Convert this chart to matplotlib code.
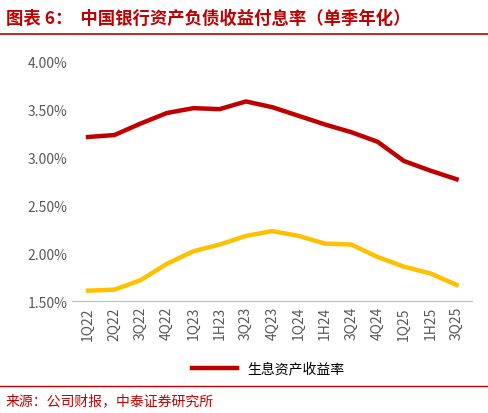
import matplotlib
matplotlib.use("Agg")
import matplotlib.pyplot as plt
from matplotlib.lines import Line2D

plt.rcParams['font.family'] = ['Noto Sans CJK SC', 'DejaVu Sans']

labels = ["1Q22","2Q22","3Q22","4Q22","1Q23","1H23","3Q23","4Q23","1Q24","1H24","3Q24","4Q24","1Q25","1H25","3Q25"]
yield_assets = [3.21,3.23,3.35,3.46,3.51,3.50,3.58,3.52,3.43,3.34,3.26,3.16,2.96,2.86,2.77]
cost_liab = [1.61,1.62,1.72,1.89,2.02,2.09,2.18,2.23,2.18,2.10,2.09,1.96,1.86,1.79,1.67]

fig = plt.figure(figsize=(4.88,4.14), dpi=100)
ax = fig.add_axes([0.148, 0.27, 0.82, 0.58])
x = range(len(labels))
ax.plot(x, yield_assets, color='#C00000', lw=3.2)
ax.plot(x, cost_liab, color='#FFC000', lw=3.2)
ax.set_ylim(1.5, 4.0)
ax.set_yticks([1.5,2.0,2.5,3.0,3.5,4.0])
ax.set_yticklabels([f"{v:.2f}%" for v in [1.5,2.0,2.5,3.0,3.5,4.0]], fontsize=10, color='#595959')
ax.set_xticks(list(x))
ax.set_xticklabels(labels, rotation=90, fontsize=10, color='#595959')
ax.set_xlim(-0.6, len(labels)-0.4)
for s in ['top','right','left']:
    ax.spines[s].set_visible(False)
ax.spines['bottom'].set_color('#BFBFBF')
ax.tick_params(length=0)

fig.text(0.012, 0.955, "图表 6：  中国银行资产负债收益付息率（单季年化）", color='#C00000',
         fontsize=12.5, fontweight='bold', style='italic', va='center')
fig.add_artist(Line2D([0.0,1.0],[0.915,0.915], color='#C00000', lw=1.2))
fig.legend([Line2D([0],[0],color='#C00000',lw=3.2)], ["生息资产收益率"], loc='center',
           bbox_to_anchor=(0.55, 0.107), frameon=False, fontsize=10, handlelength=3.2)
fig.add_artist(Line2D([0.0,1.0],[0.065,0.065], color='#C00000', lw=1.0))
fig.text(0.012, 0.03, "来源：公司财报，中泰证券研究所", color='#C00000', fontsize=10, va='center')
fig.savefig("out.png", dpi=100)
